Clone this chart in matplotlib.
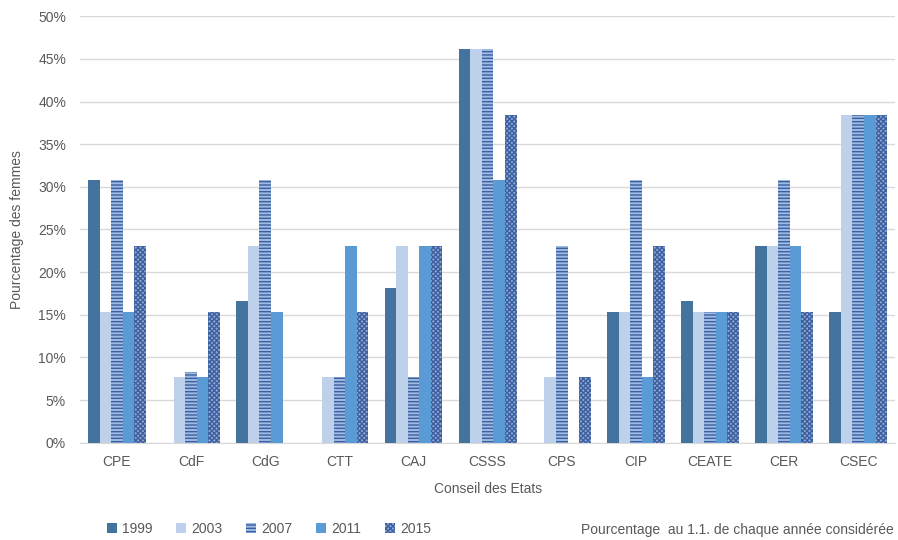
import numpy as np
import matplotlib
matplotlib.use("Agg")
import matplotlib.pyplot as plt
import matplotlib.ticker as ticker

plt.rcParams['font.family'] = ['Liberation Sans', 'DejaVu Sans']
plt.rcParams['hatch.linewidth'] = 1.0

# données : pourcentage des femmes par commission
commissions = ["CPE", "CdF", "CdG", "CTT", "CAJ", "CSSS", "CPS", "CIP", "CEATE", "CER", "CSEC"]
annees = ["1999", "2003", "2007", "2011", "2015"]
v1999 = [30.77, 0, 16.67, 0, 18.18, 46.15, 0, 15.38, 16.67, 23.08, 15.38]
v2003 = [15.38, 7.69, 23.08, 7.69, 23.08, 46.15, 7.69, 15.38, 15.38, 23.08, 38.46]
v2007 = [30.77, 8.33, 30.77, 7.69, 7.69, 46.15, 23.08, 30.77, 15.38, 30.77, 38.46]
v2011 = [15.38, 7.69, 15.38, 23.08, 23.08, 30.77, 0, 7.69, 15.38, 23.08, 38.46]
v2015 = [23.08, 15.38, 0, 15.38, 23.08, 38.46, 7.69, 23.08, 15.38, 15.38, 38.46]
series = [v1999, v2003, v2007, v2011, v2015]

# styles : (couleur de fond, couleur du motif, motif)
styles = [
    ("#44739f", "#44739f", None),
    ("#bdd1eb", "#bdd1eb", None),
    ("#9dbbe3", "#3c5f9f", "-----"),
    ("#5b9bd5", "#5b9bd5", None),
    ("#8fa9d6", "#3d5f9e", "xxxxxxx"),
]

fig = plt.figure(figsize=(8.98, 5.40), dpi=100)
ax = fig.add_axes([0.089, 0.180, 0.908, 0.790])

x = np.arange(len(commissions))
w = 0.156
handles = []
for i, (vals, (fc, hc, hatch)) in enumerate(zip(series, styles)):
    pos = x + (i - 2) * w
    b = ax.bar(pos, np.array(vals) / 100.0, width=w, color=fc,
               edgecolor=hc, linewidth=0, hatch=hatch, label=annees[i], zorder=3)
    handles.append(b)

ax.set_xlim(-0.5, len(commissions) - 0.5)
ax.set_ylim(0, 0.5)
ax.yaxis.set_major_locator(ticker.MultipleLocator(0.05))
ax.yaxis.set_major_formatter(ticker.FuncFormatter(lambda v, p: "%d%%" % round(v * 100)))
ax.set_xticks(x)
ax.set_xticklabels(commissions)

ax.grid(axis='y', color="#d9d9d9", linewidth=1, zorder=0)
for s in ["top", "right", "left"]:
    ax.spines[s].set_visible(False)
ax.spines["bottom"].set_color("#d9d9d9")
ax.tick_params(axis='y', length=0, pad=10, labelsize=10, labelcolor="#595959")
ax.tick_params(axis='x', length=0, pad=9, labelsize=10, labelcolor="#595959")

ax.set_ylabel("Pourcentage des femmes", fontsize=10, color="#595959", labelpad=10)
ax.set_xlabel("Conseil des Etats", fontsize=10, color="#595959", labelpad=9)

fig.legend(handles=handles, loc="lower left", bbox_to_anchor=(0.105, -0.015),
           ncol=5, frameon=False, fontsize=10, handlelength=0.7, handleheight=0.7,
           columnspacing=1.7, handletextpad=0.4, labelcolor="#595959")
fig.text(0.995, 0.006, "Pourcentage  au 1.1. de chaque année considérée",
         ha="right", va="bottom", fontsize=10, color="#595959")

fig.savefig("out.png", dpi=100)
